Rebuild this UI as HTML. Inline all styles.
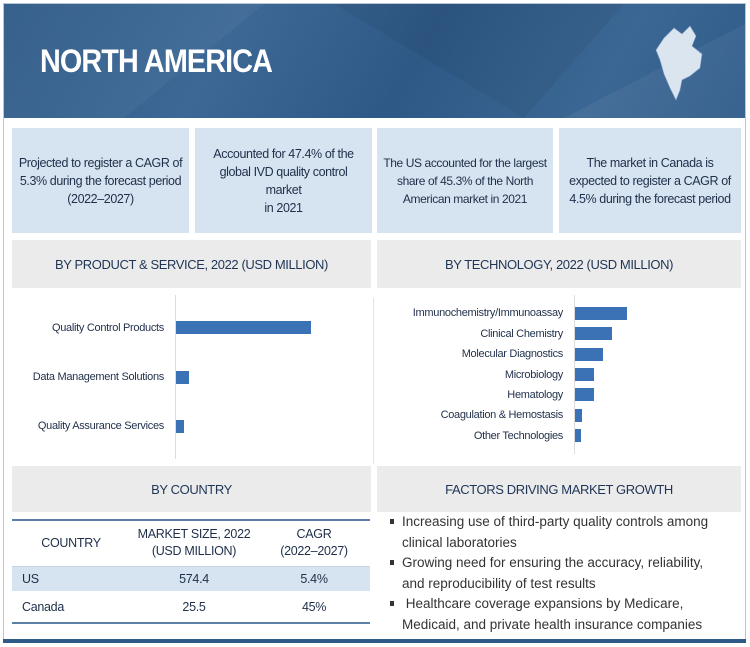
<!DOCTYPE html>
<html><head><meta charset="utf-8">
<style>
*{box-sizing:border-box;margin:0;padding:0}
body{width:750px;height:647px;background:#fff;font-family:"Liberation Sans Narrow","Liberation Sans",sans-serif;color:#1f2f4a;position:relative;overflow:hidden}
.abs{position:absolute}
.frame{left:3px;top:3px;width:743px;height:640px;border:1px solid #b9c6d6}
.header{left:4px;top:4px;width:741px;height:114px;background:linear-gradient(120deg,#2f5a88 0%,#3d6896 30%,#2e5885 55%,#3b6794 80%,#2f5b8a 100%)}
.title{left:40px;top:43px;font-size:32px;font-weight:bold;color:#fff;letter-spacing:-1px;transform:scaleX(0.9);transform-origin:left}
.card{top:128px;height:105px;background:#d6e3f0;display:flex;align-items:center;justify-content:center;text-align:center;font-size:12.5px;letter-spacing:-0.4px;line-height:18px;color:#1f2f4a;padding:0 2px;white-space:nowrap}
.sec{background:#ebebeb;display:flex;align-items:center;justify-content:center;font-size:13px;letter-spacing:-0.4px;color:#1f3556}
.lbl{font-size:11px;letter-spacing:-0.3px;text-align:right;color:#1f2f4a;white-space:nowrap}
.bar{background:#3a72b5}
table{border-collapse:collapse;font-size:12.5px;letter-spacing:-0.3px}
.bullets{left:390px;top:512px;width:335px;font-size:13.5px;line-height:20.5px;color:#333}
.bullets div{position:relative;padding-left:12px}
.bullets div:before{content:"";position:absolute;left:0;top:7px;width:4px;height:5px;background:#333}
</style></head><body>
<div class="abs frame"></div>
<div class="abs header">
 <svg width="741" height="114" style="position:absolute;left:0;top:0">
  <polygon points="0,0 260,0 120,114 0,114" fill="#fff" opacity="0.04"/>
  <polygon points="330,0 620,0 520,114" fill="#000" opacity="0.05"/>
  <polygon points="560,114 741,20 741,114" fill="#fff" opacity="0.05"/>
 </svg>
 <svg class="abs" style="left:648px;top:20px" width="60" height="80">
  <path d="M12,14 L22,4 L30,10 L38,2 L44,12 L40,22 L50,30 L48,44 L38,52 L30,56 L28,66 L24,76 L18,64 L12,50 L8,36 L4,26 Z" fill="#dbe5f0" stroke="#8aa3c2" stroke-width="0.6"/>
 </svg>
</div>
<div class="abs title">NORTH AMERICA</div>

<div class="abs card" style="left:12px;width:177px">Projected to register a CAGR of<br>5.3% during the forecast period<br>(2022–2027)</div>
<div class="abs card" style="left:195px;width:177px">Accounted for 47.4% of the<br>global IVD quality control<br>market<br>in 2021</div>
<div class="abs card" style="left:377px;width:176px;font-size:12px">The US accounted for the largest<br>share of 45.3% of the North<br>American market in 2021</div>
<div class="abs card" style="left:559px;width:182px">The market in Canada is<br>expected to register a CAGR of<br>4.5% during the forecast period</div>

<div class="abs sec" style="left:12px;top:240px;width:359px;height:48px">BY PRODUCT &amp; SERVICE, 2022 (USD MILLION)</div>
<div class="abs sec" style="left:377px;top:240px;width:364px;height:48px">BY TECHNOLOGY, 2022 (USD MILLION)</div>
<div class="abs" style="left:373px;top:298px;width:1px;height:166px;background:#e4e4e4"></div>

<div id="prodChart"></div>
<div id="techChart"></div>

<div class="abs sec" style="left:12px;top:466px;width:359px;height:46px">BY COUNTRY</div>
<div class="abs sec" style="left:377px;top:466px;width:364px;height:46px">FACTORS DRIVING MARKET GROWTH</div>

<table class="abs" style="left:12px;top:519px;width:358px">
 <tr style="height:46px;border-top:2px solid #5c7fa8;border-bottom:1px solid #c9d4e2">
  <th style="font-weight:normal;width:118px">COUNTRY</th>
  <th style="font-weight:normal;width:128px;line-height:17px;white-space:nowrap">MARKET SIZE, 2022<br>(USD MILLION)</th>
  <th style="font-weight:normal;line-height:17px">CAGR<br>(2022–2027)</th>
 </tr>
 <tr style="height:25px;background:#d6e3f0">
  <td style="padding-left:10px">US</td><td style="text-align:center">574.4</td><td style="text-align:center">5.4%</td>
 </tr>
 <tr style="height:32px;border-bottom:2px solid #5c7fa8">
  <td style="padding-left:10px">Canada</td><td style="text-align:center">25.5</td><td style="text-align:center">45%</td>
 </tr>
</table>

<div class="abs bullets">
 <div>Increasing use of third-party quality controls among clinical laboratories</div>
 <div>Growing need for ensuring the accuracy, reliability, and reproducibility of test results</div>
 <div>&nbsp;Healthcare coverage expansions by Medicare, Medicaid, and private health insurance companies</div>
</div>

<div class="abs" style="left:3px;top:639px;width:743px;height:4px;background:#2f5a88"></div>

<script>
const prodCategories=["Quality Control Products","Data Management Solutions","Quality Assurance Services"];
const prodValues=[520,50,32];
const techCategories=["Immunochemistry/Immunoassay","Clinical Chemistry","Molecular Diagnostics","Microbiology","Hematology","Coagulation & Hemostasis","Other Technologies"];
const techValues=[200,142,108,73,73,27,23];

function drawChart(container,cats,vals,axisX,top,bottom,maxVal,maxPx,barH){
  const root=document.getElementById(container);
  const axis=document.createElement('div');
  axis.className='abs';
  axis.style.cssText=`left:${axisX}px;top:${top-8}px;width:1px;height:${bottom-top+16}px;background:#dcdcdc`;
  
  
  root.appendChild(axis);
  const step=(bottom-top)/cats.length;
  const x=v=>v/maxVal*maxPx;
  cats.forEach((c,i)=>{
    const cy=top+step*(i+0.5);
    const b=document.createElement('div');
    b.className='abs bar';
    b.style.cssText=`left:${axisX+1}px;top:${cy-barH/2}px;width:${x(vals[i])}px;height:${barH}px`;
    
    
    root.appendChild(b);
    const l=document.createElement('div');
    l.className='abs lbl';
    l.style.cssText=`right:${750-axisX+11}px;top:${cy-8}px;line-height:16px`;
    l.textContent=c;
    
    
    root.appendChild(l);
  });
}
drawChart('prodChart',prodCategories,prodValues,175,303,451,520,135,13);
drawChart('techChart',techCategories,techValues,574,303,446,200,52,13);
</script>
</body></html>
